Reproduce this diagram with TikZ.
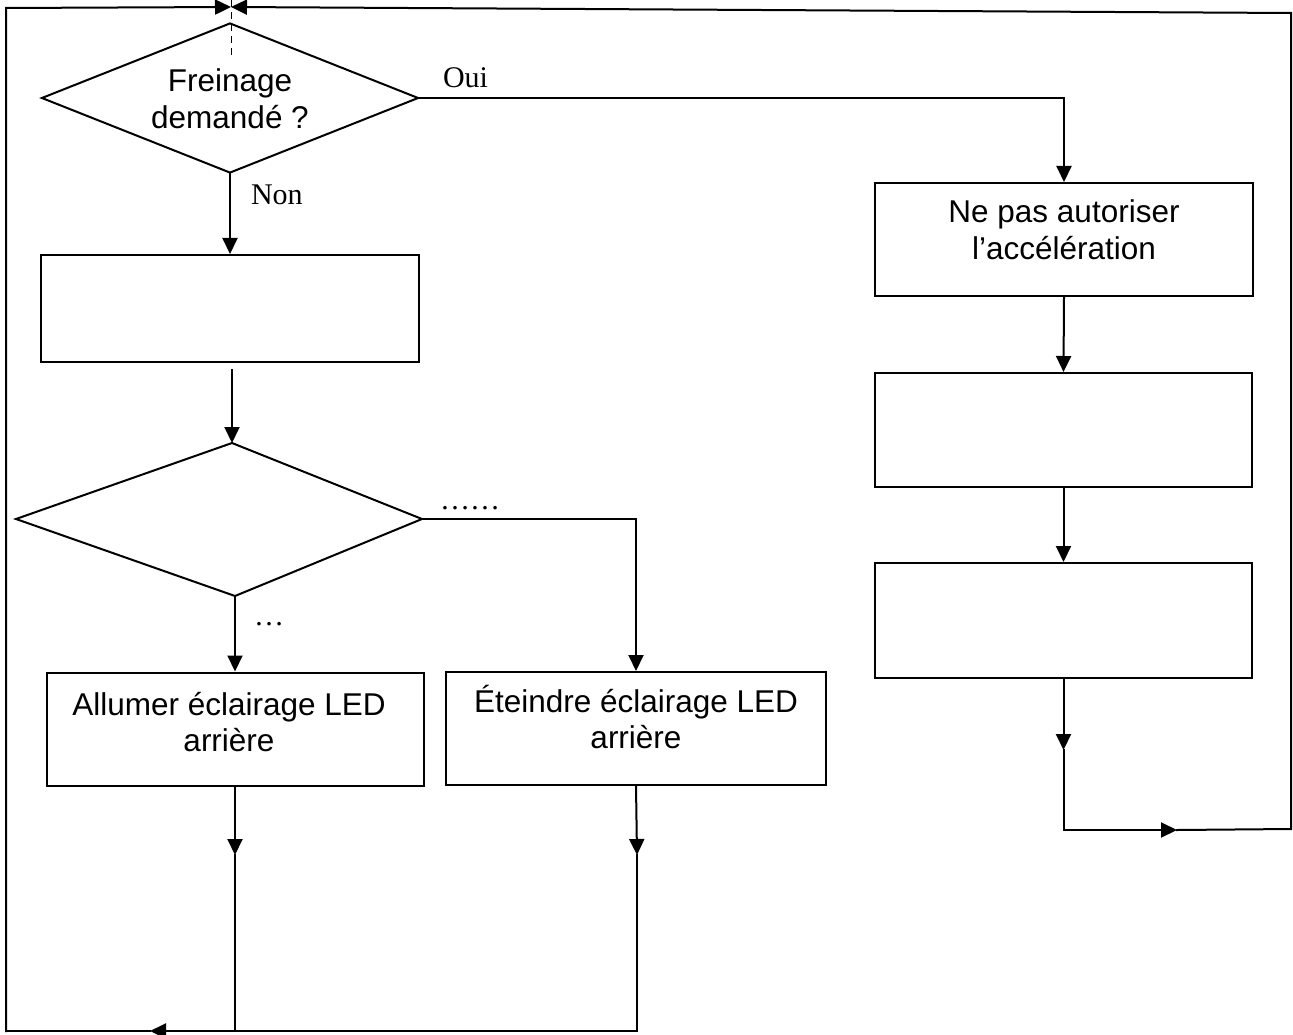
\documentclass[tikz,border=0pt]{standalone}
\usepackage{fontspec}
\setmainfont{Liberation Serif}
\setsansfont{Liberation Sans}
\usetikzlibrary{arrows.meta,shapes.geometric}
\begin{document}
\begin{tikzpicture}[x=1pt,y=-1pt,
  line width=2pt,line cap=rect,
  tip/.style={-{Triangle[length=16pt,width=15pt]}},
  boxnode/.style={draw,rectangle,inner sep=0pt},
  txt/.style={font=\sffamily\fontsize{31.5}{36.5}\selectfont,align=center,inner sep=0pt},
  lab/.style={font=\rmfamily\fontsize{30}{34}\selectfont,inner sep=0pt,anchor=base west},
]
\useasboundingbox (0,0) rectangle (1293,1035);

% decision 1
\node[draw,diamond,minimum width=377pt,minimum height=150pt,inner sep=0pt] (d1) at (230,98) {};
\node[txt] (d1t) at (230,98.5) {Freinage\\demandé ?};

% left column
\node[boxnode,minimum width=378pt,minimum height=107pt] (b1) at (230,308.5) {};
\coordinate (b1o) at (232,370);
\coordinate (d2n) at (232,443);
\coordinate (d2e) at (422,519);
\coordinate (d2s) at (235,596);
\coordinate (d2w) at (16,519);
\draw (d2n) -- (d2e) -- (d2s) -- (d2w) -- cycle;

\node[boxnode,minimum width=377pt,minimum height=113pt] (b2) at (235,729) {};
\node[txt] (t2) at (229,722) {Allumer éclairage LED\\arrière};
\node[boxnode,minimum width=380pt,minimum height=113pt] (b3) at (636,728.5) {};
\node[txt] (t3) at (636,717) {Éteindre éclairage LED\\arrière};

% right column
\node[boxnode,minimum width=378pt,minimum height=113pt] (r1) at (1064,239.5) {};
\node[txt] (t1) at (1064,229.5) {Ne pas autoriser\\l’accélération};
\node[boxnode,minimum width=377pt,minimum height=114pt] (r2) at (1063.5,430) {};
\node[boxnode,minimum width=377pt,minimum height=115pt] (r3) at (1063.5,620.5) {};

% labels
\node[lab] (oui) at (442,88) {Oui};
\node[lab] (non) at (250,205) {Non};
\node[lab] (dots1) at (439,509) {……};
\node[lab] (dots2) at (253,625) {…};

% loop coordinates
\coordinate (rA) at (1063.5,750);
\coordinate (rB) at (1063.5,830);
\coordinate (rC) at (1177,830);
\coordinate (rD) at (1291,829);
\coordinate (rE) at (1291,13);
\coordinate (top) at (231,7);
\coordinate (lA) at (6,8);
\coordinate (lB) at (6,1031);
\coordinate (bA) at (150,1031);
\coordinate (bL) at (235,855);
\coordinate (bL2) at (235,1031);
\coordinate (bR) at (637,855);
\coordinate (bR2) at (637,1031);
\coordinate (dtop) at (231,0);
\coordinate (dbot) at (231,56);

% connectors
\draw[tip] (d1.east) -| (r1.north);
\draw[tip] (d1.south) -- (b1.north);
\draw[tip] (b1o) -- (d2n);
\draw[tip] (d2e) -| (b3.north);
\draw[tip] (d2s) -- (b2.north);
\draw[tip] (r1.south) -- (r2.north);
\draw[tip] (r2.south) -- (r3.north);
\draw[tip] (r3.south) -- (rA);
\draw (rA) -- (rB);
\draw[tip] (rB) -- (rC);
\draw[tip] (rC) -- (rD) -- (rE) -- (top);
\draw[tip] (lB) -- (lA) -- (top);
\draw[tip] (b2.south) -- (bL);
\draw (bL) -- (bL2);
\draw[tip] (b3.south) -- (bR);
\draw (bR) -- (bR2);
\draw[tip] (bR2) -- (bA);
\draw (bA) -- (lB);
\draw[line width=1pt,line cap=butt,dash pattern=on 7pt off 5pt] (dtop) -- (dbot);
\end{tikzpicture}
\end{document}
